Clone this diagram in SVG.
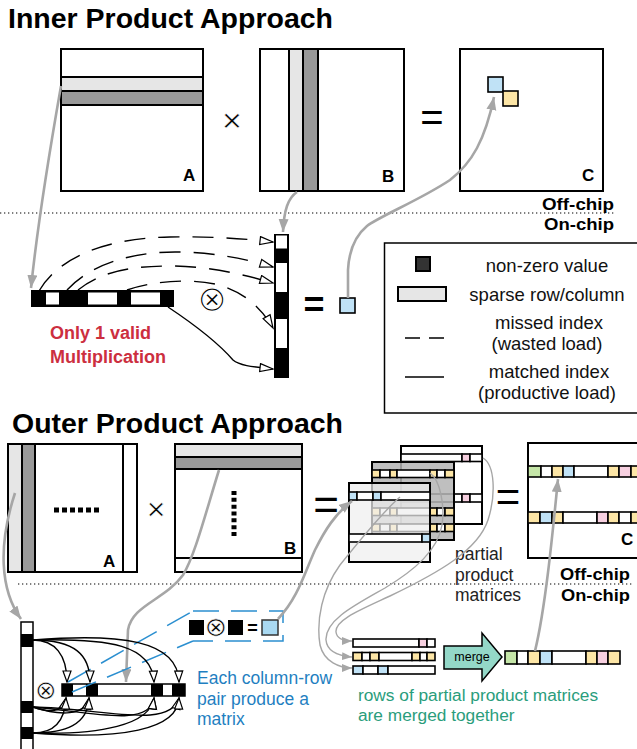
<svg xmlns="http://www.w3.org/2000/svg" width="637" height="749" viewBox="0 0 637 749">
<style>
text{font-family:"Liberation Sans",Arial,sans-serif}
.b{font-weight:bold}
.sym{font-family:"DejaVu Sans",sans-serif}
.thin{stroke:#fff;stroke-width:1.3}
.thin2{stroke:#fff;stroke-width:0.6}
.m{fill:#fff;stroke:#000;stroke-width:2}
.g1{fill:#e6e6e6;stroke:#000;stroke-width:2}
.g2{fill:#999;stroke:#000;stroke-width:2}
.ga{fill:none;stroke:#a6a6a6;stroke-width:2.6}
.gt{fill:none;stroke:#a6a6a6;stroke-width:1.4}
.dash{fill:none;stroke:#000;stroke-width:1.4;stroke-dasharray:21 13}
.sol{fill:none;stroke:#000;stroke-width:1.4}
.dot{stroke:#555;stroke-width:1.3;stroke-dasharray:1.3 2.7}
.c{stroke:#000;stroke-width:1.6}
.bl{fill:#c0e2f6}.yl{fill:#fde6a6}.pk{fill:#f7d0e0}.gr{fill:#c5e6a8}.wh{fill:#fff}.bk{fill:#000}
.bd{fill:none;stroke:#2b8fd0;stroke-width:1.5;stroke-dasharray:26 12}
</style>
<defs>
<marker id="gah" markerUnits="userSpaceOnUse" markerWidth="14" markerHeight="12" refX="13" refY="5" orient="auto"><path d="M0,0 L13,5 L0,10 z" fill="#a6a6a6"/></marker>
<marker id="gas" markerUnits="userSpaceOnUse" markerWidth="12" markerHeight="10" refX="10" refY="4" orient="auto"><path d="M0,0 L10,4 L0,8 z" fill="#a6a6a6"/></marker>
<marker id="oah" markerUnits="userSpaceOnUse" markerWidth="16" markerHeight="12" refX="14" refY="5" orient="auto"><path d="M1,1 L14,5 L1,9 z" fill="#fff" stroke="#000" stroke-width="1.2"/></marker>
<marker id="oas" markerUnits="userSpaceOnUse" markerWidth="14" markerHeight="12" refX="12" refY="5" orient="auto"><path d="M1,1 L12,5 L1,9 z" fill="#fff" stroke="#000" stroke-width="1.2"/></marker>
</defs>

<!-- titles -->
<text x="8" y="28" font-size="27" class="b" textLength="325" lengthAdjust="spacingAndGlyphs">Inner Product Approach</text>
<text x="12" y="433" font-size="27" class="b" textLength="331" lengthAdjust="spacingAndGlyphs">Outer Product Approach</text>

<!-- dotted separators -->
<line x1="0" y1="213" x2="614" y2="213" class="dot"/>
<line x1="18" y1="584" x2="632" y2="584" class="dot"/>
<text x="542" y="210" font-size="17" class="b" textLength="72" lengthAdjust="spacingAndGlyphs">Off-chip</text>
<text x="544" y="230" font-size="17" class="b" textLength="70" lengthAdjust="spacingAndGlyphs">On-chip</text>
<text x="560" y="580" font-size="17" class="b" textLength="70" lengthAdjust="spacingAndGlyphs">Off-chip</text>
<text x="561" y="601" font-size="17" class="b" textLength="69" lengthAdjust="spacingAndGlyphs">On-chip</text>

<!-- Inner: matrices -->
<g id="innerA">
<rect x="61" y="49" width="142" height="142" class="m"/>
<rect x="61" y="77" width="142" height="14" class="g1"/>
<rect x="61" y="91" width="142" height="14" class="g2"/>
<text x="183" y="181" font-size="17" class="b">A</text>
</g>
<text x="232" y="132" font-size="34" text-anchor="middle" class="thin2">×</text>
<g id="innerB">
<rect x="260" y="49" width="144" height="142" class="m"/>
<rect x="289" y="49" width="14" height="142" class="g1"/>
<rect x="303" y="49" width="15" height="142" class="g2"/>
<text x="382" y="182" font-size="17" class="b">B</text>
</g>
<text x="432" y="131" font-size="40" text-anchor="middle">=</text>
<g id="innerC">
<rect x="460" y="49" width="143" height="142" class="m"/>
<rect x="488" y="77" width="15" height="15" class="bl c"/>
<rect x="503" y="91" width="15" height="15" class="yl c"/>
<text x="582" y="181" font-size="17" class="b">C</text>
</g>

<!-- Inner on-chip vectors -->
<g id="innerRow">
<rect x="31" y="290" width="143" height="17" fill="#000"/>
<rect x="46" y="292.5" width="13" height="12" fill="#fff"/>
<rect x="88" y="292.5" width="29" height="12" fill="#fff"/>
<rect x="131" y="292.5" width="29" height="12" fill="#fff"/>
</g>
<text x="212" y="311" font-size="36" class="sym thin" text-anchor="middle">⊗</text>
<g id="innerCol">
<rect x="274" y="234" width="15" height="144" fill="#000"/>
<rect x="276" y="235.5" width="11" height="13" fill="#fff"/>
<rect x="276" y="263" width="11" height="29" fill="#fff"/>
<rect x="276" y="319" width="11" height="29" fill="#fff"/>
</g>
<text x="314" y="317" font-size="36" class="b" text-anchor="middle">=</text>
<g id="innerRes">
<rect x="340" y="298" width="15" height="15" class="bl c"/>
</g>
<text font-size="18" class="b" fill="#cc2f3f"><tspan x="50" y="339">Only 1 valid</tspan><tspan x="50" y="363">Multiplication</tspan></text>

<!-- Legend -->
<g id="legend">
<rect x="384.5" y="243" width="262" height="170" fill="#fff" stroke="#000" stroke-width="1.5"/>
<rect x="416" y="257" width="14" height="14" fill="#333" stroke="#000" stroke-width="2"/>
<rect x="398" y="287" width="48" height="14" class="g1"/>
<line x1="405" y1="338" x2="444" y2="338" stroke="#000" stroke-width="1.5" stroke-dasharray="15 9"/>
<line x1="405" y1="377" x2="444" y2="377" stroke="#000" stroke-width="1.5"/>
<g font-size="18.5" text-anchor="middle" fill="#111">
<text x="547" y="272">non-zero value</text>
<text x="547" y="301">sparse row/column</text>
<text x="549" y="329">missed index</text>
<text x="547" y="350">(wasted load)</text>
<text x="549" y="378">matched index</text>
<text x="547" y="399">(productive load)</text>
</g>
</g>

<!-- Inner connectors -->
<g id="innerConnectors">
<path d="M39,291 C60,255 110,238 170,237 C220,236 255,240 273,242" class="dash" marker-end="url(#oah)"/>
<path d="M67,290 C90,265 130,252 175,252 C215,252 250,260 273,267" class="dash" marker-end="url(#oah)"/>
<path d="M78,290 C100,272 130,266 170,266 C210,266 245,275 273,283" class="dash" marker-end="url(#oah)"/>
<path d="M127,290 C150,282 185,278 215,284 C240,290 260,305 273,328" class="dash" marker-end="url(#oah)"/>
<path d="M168,307 C195,325 220,345 233,360 C240,366 255,367 273,369" class="sol" marker-end="url(#oah)"/>
<path d="M61,86 C48,160 38,220 31,288" class="ga" marker-end="url(#gah)"/>
<path d="M297,192 C288,198 284,210 283,232" class="ga" marker-end="url(#gah)"/>
<path d="M348,298 L348,270 C349,250 355,236 367,226 C380,216 420,200 450,180 C472,163 485,140 494,97" class="ga" marker-end="url(#gah)"/>
</g>

<!-- Outer: matrices -->
<g id="outerA">
<rect x="8" y="444" width="129" height="128" class="m"/>
<rect x="8" y="444" width="14" height="128" class="g1"/>
<rect x="22" y="444" width="13" height="128" class="g2"/>
<line x1="123" y1="444" x2="123" y2="572" stroke="#000" stroke-width="2"/>
<line x1="54" y1="510" x2="99" y2="510" stroke="#000" stroke-width="5" stroke-dasharray="5 3"/>
<text x="103" y="567" font-size="17" class="b">A</text>
</g>
<text x="156" y="520" font-size="32" text-anchor="middle" class="thin2">×</text>
<g id="outerB">
<rect x="175" y="444" width="127" height="128" class="m"/>
<rect x="175" y="444" width="127" height="13" class="g1"/>
<rect x="175" y="457" width="127" height="12" class="g2"/>
<line x1="175" y1="558" x2="302" y2="558" stroke="#000" stroke-width="2"/>
<line x1="234" y1="491" x2="234" y2="536" stroke="#000" stroke-width="5" stroke-dasharray="4 2.83"/>
<text x="284" y="554" font-size="17" class="b">B</text>
</g>
<text x="326" y="520" font-size="44" text-anchor="middle">=</text>

<!-- partial product matrices -->
<g id="partialBack">
<rect x="401" y="446" width="81" height="78" class="m"/>
<g class="c">
<rect x="401" y="454" width="61" height="7.5" class="wh"/><rect x="462" y="454" width="8" height="7.5" class="pk"/><rect x="470" y="454" width="12" height="7.5" class="wh"/>
<rect x="401" y="494" width="61" height="8" class="wh"/><rect x="462" y="494" width="8" height="8" class="pk"/><rect x="470" y="494" width="12" height="8" class="wh"/>
</g>
</g>
<g id="partialMid">
<rect x="372" y="462" width="82" height="78" fill="#b4b4b4" fill-opacity="0.85" stroke="#000" stroke-width="2"/>
<g class="c">
<rect x="372" y="470" width="8" height="7.5" class="yl"/><rect x="380" y="470" width="10" height="7.5" class="wh"/><rect x="390" y="470" width="7" height="7.5" class="yl"/><rect x="397" y="470" width="33" height="7.5" class="wh"/><rect x="430" y="470" width="7" height="7.5" class="yl"/><rect x="437" y="470" width="8" height="7.5" class="wh"/><rect x="445" y="470" width="9" height="7.5" class="yl"/>
<rect x="372" y="508" width="8" height="7.5" class="yl"/><rect x="380" y="508" width="10" height="7.5" class="wh"/><rect x="390" y="508" width="7" height="7.5" class="yl"/><rect x="397" y="508" width="33" height="7.5" class="wh"/><rect x="430" y="508" width="7" height="7.5" class="yl"/><rect x="437" y="508" width="8" height="7.5" class="wh"/><rect x="445" y="508" width="9" height="7.5" class="yl"/>
<rect x="372" y="524" width="8" height="7.5" class="yl"/><rect x="380" y="524" width="10" height="7.5" class="wh"/><rect x="390" y="524" width="7" height="7.5" class="yl"/><rect x="397" y="524" width="33" height="7.5" class="wh"/><rect x="430" y="524" width="7" height="7.5" class="yl"/><rect x="437" y="524" width="8" height="7.5" class="wh"/><rect x="445" y="524" width="9" height="7.5" class="yl"/>
</g>
</g>
<g id="partialFront">
<rect x="349" y="483" width="81" height="79" fill="#eeeeee" fill-opacity="0.72" stroke="#000" stroke-width="2"/>
<g class="c">
<rect x="349" y="492" width="8" height="8" class="bl"/><rect x="357" y="492" width="16" height="8" class="wh"/><rect x="373" y="492" width="8" height="8" class="bl"/><rect x="381" y="492" width="49" height="8" class="wh"/>
<rect x="349" y="534" width="73" height="8" class="wh"/><rect x="422" y="534" width="8" height="8" class="bl"/>
</g>
</g>
<text fill="#222" font-size="17.5"><tspan x="455" y="560">partial</tspan><tspan x="455" y="581">product</tspan><tspan x="455" y="601">matrices</tspan></text>
<text x="508" y="511" font-size="42" text-anchor="middle">=</text>

<g id="outerC">
<rect x="528" y="443" width="114" height="115" class="m"/>
<g class="c">
<rect x="528" y="466" width="13" height="11" class="gr"/><rect x="541" y="466" width="11" height="11" class="wh"/><rect x="552" y="466" width="11" height="11" class="yl"/><rect x="563" y="466" width="11" height="11" class="bl"/><rect x="574" y="466" width="34" height="11" class="wh"/><rect x="608" y="466" width="11" height="11" class="yl"/><rect x="619" y="466" width="12" height="11" class="pk"/><rect x="631" y="466" width="11" height="11" class="yl"/>
<rect x="528" y="512" width="12" height="11" class="yl"/><rect x="540" y="512" width="12" height="11" class="bl"/><rect x="552" y="512" width="11" height="11" class="yl"/><rect x="563" y="512" width="34" height="11" class="wh"/><rect x="597" y="512" width="11" height="11" class="pk"/><rect x="608" y="512" width="11" height="11" class="yl"/><rect x="619" y="512" width="12" height="11" class="wh"/><rect x="631" y="512" width="11" height="11" class="yl"/>
</g>
<text x="621" y="545" font-size="17" class="b">C</text>
</g>

<!-- Outer on-chip -->
<g id="outerCol">
<rect x="21" y="622" width="12" height="130" fill="#fff" stroke="#000" stroke-width="1.5"/>
<rect x="21" y="634" width="12" height="13" fill="#000"/>
<rect x="21" y="701" width="12" height="12" fill="#000"/>
<rect x="21" y="727" width="12" height="12" fill="#000"/>
</g>
<text x="46" y="699" font-size="26" class="sym thin2" text-anchor="middle">⊗</text>
<g id="outerRow">
<rect x="62" y="684" width="123" height="12" fill="#fff" stroke="#000" stroke-width="1.5"/>
<rect x="62" y="684" width="11" height="12" fill="#000"/>
<rect x="86" y="684" width="12" height="12" fill="#000"/>
<rect x="151" y="684" width="12" height="12" fill="#000"/>
<rect x="172" y="684" width="13" height="12" fill="#000"/>
</g>
<g id="callout">
<rect x="189" y="620" width="15" height="15" fill="#000"/>
<text x="216" y="636" font-size="27" class="sym thin2" text-anchor="middle">⊗</text>
<rect x="228" y="620" width="15" height="15" fill="#000"/>
<text x="252.5" y="634" font-size="18" class="b" text-anchor="middle">=</text>
<rect x="262" y="620" width="16" height="15" fill="#a9d9f2" stroke="#333" stroke-width="1.5"/>
<path d="M193,611 H283 V641 H193" class="bd" stroke-dasharray="20 6"/>
</g>
<text font-size="17.5" fill="#1f7fc1"><tspan x="197" y="684">Each column-row</tspan><tspan x="197" y="705">pair produce a</tspan><tspan x="197" y="725">matrix</tspan></text>

<g id="mergeRows">
<g class="c">
<rect x="353" y="639" width="66" height="8" class="wh"/><rect x="419" y="639" width="8" height="8" class="pk"/><rect x="427" y="639" width="8" height="8" class="wh"/>
<rect x="353" y="652.5" width="9" height="8" class="yl"/><rect x="362" y="652.5" width="8" height="8" class="wh"/><rect x="370" y="652.5" width="9" height="8" class="yl"/><rect x="379" y="652.5" width="33" height="8" class="wh"/><rect x="412" y="652.5" width="8" height="8" class="yl"/><rect x="420" y="652.5" width="7" height="8" class="wh"/><rect x="427" y="652.5" width="8" height="8" class="yl"/>
<rect x="353" y="666" width="10" height="8" class="bl"/><rect x="363" y="666" width="15" height="8" class="wh"/><rect x="378" y="666" width="10" height="8" class="bl"/><rect x="388" y="666" width="47" height="8" class="wh"/>
</g>
</g>
<g id="merge">
<polygon points="444,646 482,646 482,633 502,657 482,681 482,669 444,669" fill="#94d8c8" stroke="#000" stroke-width="1.5"/>
<text x="472" y="661" font-size="12.5" text-anchor="middle">merge</text>
</g>
<g id="mergedRow">
<g class="c">
<rect x="505" y="651" width="12" height="13" class="gr"/><rect x="517" y="651" width="11" height="13" class="wh"/><rect x="528" y="651" width="12" height="13" class="yl"/><rect x="540" y="651" width="12" height="13" class="bl"/><rect x="552" y="651" width="34" height="13" class="wh"/><rect x="586" y="651" width="11" height="13" class="yl"/><rect x="597" y="651" width="11" height="13" class="pk"/><rect x="608" y="651" width="12" height="13" class="yl"/>
</g>
</g>
<text font-size="17.3" fill="#2a9d7c"><tspan x="358" y="701">rows of partial product matrices</tspan><tspan x="358" y="721">are merged together</tspan></text>

<!-- Outer connectors -->
<g id="outerConnectors">
<path d="M15,493 C-2,545 0,590 21,619" class="ga" marker-end="url(#gah)"/>
<path d="M219,470 C205,515 195,555 183,575 C165,600 132,605 128,630 L126,682" class="ga" marker-end="url(#gah)"/>
<path d="M278,619 C298,598 305,572 315,550 C325,530 335,514 352,501" class="ga" marker-end="url(#gah)"/>
<path d="M535,651 C545,610 552,540 558,479" class="ga" marker-end="url(#gah)"/>
<path d="M483,458 C495,465 496,495 488,520 C478,550 440,572 390,596 C360,610 335,620 336,632 C337,640 345,641 352,641" class="gt" marker-end="url(#gas)"/>
<path d="M430,473 C440,480 445,505 442,525 C438,550 415,570 385,588 C355,605 325,620 326,640 C327,652 340,656 352,657" class="gt" marker-end="url(#gas)"/>
<path d="M400,497 C385,510 360,540 340,565 C322,590 316,620 320,645 C324,662 340,668 352,668" class="gt" marker-end="url(#gas)"/>
<line x1="68" y1="682" x2="193" y2="611" class="bd"/>
<line x1="72" y1="692" x2="193" y2="641" class="bd"/>
<path d="M33,640 C55,640 67,655 67,682" class="sol" marker-end="url(#oas)"/>
<path d="M33,640 C75,640 90,655 90,682" class="sol" marker-end="url(#oas)"/>
<path d="M33,640 C110,638 152,645 154,682" class="sol" marker-end="url(#oas)"/>
<path d="M33,640 C120,633 178,640 179,682" class="sol" marker-end="url(#oas)"/>
<path d="M33,707 C50,713 62,713 66,698" class="sol" marker-end="url(#oas)"/>
<path d="M33,707 C60,716 85,716 89,698" class="sol" marker-end="url(#oas)"/>
<path d="M33,707 C90,712 150,728 154,698" class="sol" marker-end="url(#oas)"/>
<path d="M33,707 C100,708 170,730 179,698" class="sol" marker-end="url(#oas)"/>
<path d="M33,733 C55,733 65,720 66,698" class="sol" marker-end="url(#oas)"/>
<path d="M33,733 C65,733 88,725 89,698" class="sol" marker-end="url(#oas)"/>
<path d="M33,733 C100,735 150,725 154,698" class="sol" marker-end="url(#oas)"/>
<path d="M33,733 C120,740 178,730 179,698" class="sol" marker-end="url(#oas)"/>
</g>
</svg>
